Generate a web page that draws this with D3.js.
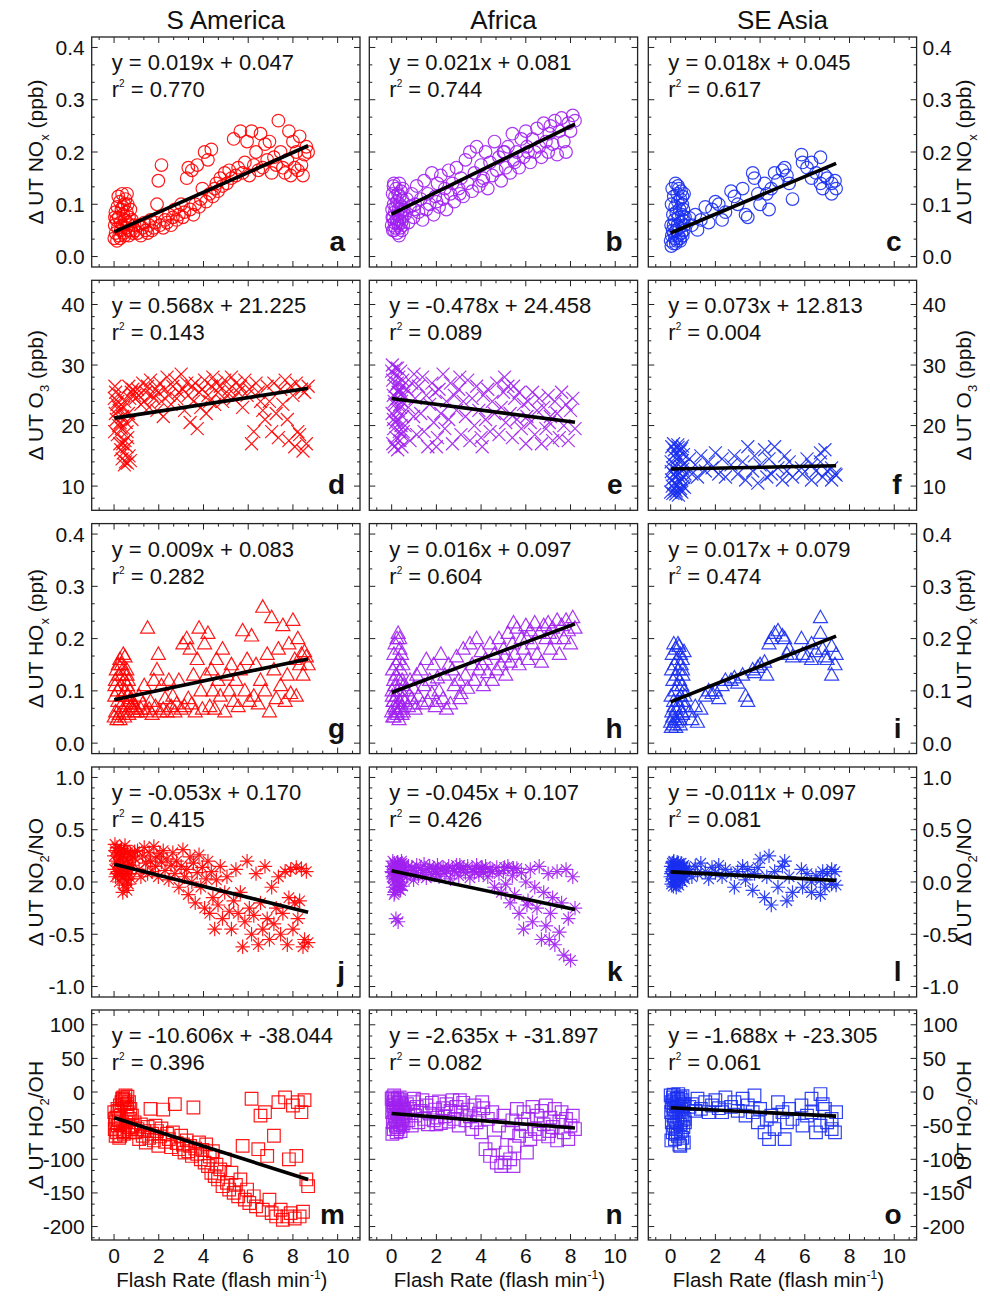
<!DOCTYPE html>
<html><head><meta charset="utf-8">
<script src="https://cdn.jsdelivr.net/npm/d3@7"></script>
<style>
body{margin:0;background:#fff}
svg{display:block}
text{font-family:"Liberation Sans",Arial,Helvetica,sans-serif;fill:#111}
</style>
</head><body>
<svg id="chart" width="990" height="1300"></svg>
<script>
// ---------------- DATA ----------------
const regions = ["S America", "Africa", "SE Asia"];
const panelLetters = ["a","b","c","d","e","f","g","h","i","j","k","l","m","n","o"];

// Flash rate (x) per region
const saFlash = [0.01,0.03,0.06,0.07,0.10,0.13,0.15,0.17,0.21,0.23,0.26,0.29,0.30,0.33,0.36,0.38,0.41,0.44,0.46,0.49,0.51,0.54,0.57,0.60,0.61,0.64,0.67,0.70,0.73,0.77,0.80,0.84,0.04,0.19,0.27,0.39,0.47,0.58,0.66,0.92,
 0.95,1.05,1.12,1.2,1.28,1.35,1.42,1.5,1.57,1.63, 1.7,1.78,1.85,1.92,1.98,2.05,2.12,2.2,2.28,2.37, 2.45,2.55,2.63,2.72,2.8,2.9,3.0,3.08,3.15,3.25,
 3.32,3.4,3.48,3.55,3.63,3.72,3.8,3.88,3.95,4.05, 4.12,4.2,4.28,4.35,4.42,4.5,4.58,4.65,4.75,4.85, 4.95,5.05,5.15,5.25,5.35,5.45,5.55,5.65,5.75,5.85,
 5.95,6.05,6.15,6.25,6.35,6.45,6.55,6.65,6.75,6.85, 6.95,7.05,7.15,7.25,7.35,7.45,7.55,7.65,7.75,7.82, 7.9,8.0,8.08,8.15,8.22,8.3,8.38,8.45,8.52,8.6,8.68];
const afFlash = [0.0,0.02,0.04,0.05,0.07,0.09,0.1,0.12,0.14,0.15, 0.17,0.19,0.2,0.22,0.24,0.25,0.27,0.29,0.3,0.32, 0.34,0.35,0.37,0.39,0.4,0.42,0.44,0.45,0.47,0.49, 0.5,0.52,0.54,0.03,0.11,0.26,0.36,0.46,0.08,0.33,
 0.6,0.68,0.75,0.82,0.9,0.98,1.05,1.12,1.2,1.3, 1.38,1.45,1.55,1.62,1.7,1.8,1.88,1.95,2.05,2.12, 2.2,2.3,2.38,2.45,2.55,2.63,2.72,2.8,2.9,3.0,
 3.1,3.2,3.3,3.4,3.5,3.6,3.7,3.8,3.9,4.0, 4.1,4.2,4.3,4.4,4.5,4.6,4.7,4.8,4.9,5.0, 5.1,5.2,5.3,5.4,5.5,5.6,5.7,5.8,5.9,6.0,
 6.1,6.2,6.3,6.4,6.5,6.6,6.7,6.8,6.9,7.0, 7.1,7.2,7.3,7.4,7.5,7.6,7.7,7.8,7.9,8.0, 8.1,8.2,1.0,2.0,3.05,4.05,5.05,6.05,7.05,5.45];
const seFlash = [0.0,0.02,0.04,0.05,0.07,0.09,0.1,0.12,0.14,0.15, 0.17,0.19,0.2,0.22,0.24,0.25,0.27,0.29,0.3,0.32, 0.34,0.35,0.37,0.39,0.4,0.42,0.44,0.45,0.47,0.49, 0.5,0.52,0.54,0.55,0.57,0.59,0.6,0.62,0.03,0.13, 0.23,0.33,0.43,0.53,0.64,
 0.84,0.95,1.1,1.2,1.35,1.55,1.7,1.85,2.0,2.15, 2.3,2.45,2.7,2.85,3.0,3.22,3.35,3.45,3.67,3.75, 3.9,4.0,4.2,4.3,4.4,4.5,4.65,4.8,5.0,5.1, 5.2,5.3,5.45,5.85,5.9,6.1,6.3,6.3,6.5,6.7, 6.7,6.8,6.9,7.0,7.2,7.2,7.35,7.4];

// Delta UT NOx (ppb)
const saNOx = [.035,.06,.085,.045,.07,.03,.095,.055,.075,.04,.105,.065,.05,.09,.12,.06,.08,.045,.1,.07,.11,.055,.085,.065,.1,.05,.075,.06,.09,.05,.07,.045,.075,.115,.035,.095,.04,.12,.04,.06,
 .05,.045,.06,.04,.055,.065,.05,.045,.06,.07, .05,.055,.065,.1,.145,.06,.175,.055,.07,.065, .08,.06,.075,.09,.07,.08,.1,.075,.085,.15,
 .17,.09,.165,.08,.1,.175,.095,.11,.13,.2, .105,.185,.12,.205,.115,.13,.14,.125,.15,.135, .16,.14,.165,.15,.225,.155,.17,.24,.16,.18,
 .22,.155,.24,.175,.2,.165,.235,.17,.215,.185, .22,.16,.19,.175,.26,.2,.17,.16,.185,.24, .155,.22,.17,.2,.165,.23,.175,.155,.195,.21,.2];
const afNOx = [.06,.09,.12,.05,.075,.1,.14,.065,.085,.115, .055,.095,.13,.07,.105,.045,.08,.12,.06,.09, .14,.07,.1,.055,.085,.125,.065,.095,.11,.075, .13,.06,.09,.075,.05,.065,.115,.05,.135,.04,
 .08,.11,.065,.095,.12,.075,.1,.135,.085,.11, .07,.145,.09,.12,.1,.16,.08,.115,.14,.095, .155,.11,.13,.09,.165,.12,.14,.105,.17,.13,
 .15,.115,.185,.14,.2,.125,.16,.21,.135,.175, .15,.2,.13,.18,.155,.22,.165,.19,.145,.2, .17,.21,.16,.235,.18,.2,.17,.225,.19,.24,
 .2,.18,.225,.2,.245,.21,.19,.255,.22,.2, .25,.215,.26,.195,.24,.265,.22,.2,.255,.24, .27,.26,.09,.105,.12,.145,.2,.21,.235,.185];
const seNOx = [.03,.06,.1,.04,.13,.05,.08,.025,.115,.045, .07,.035,.095,.14,.05,.085,.03,.12,.06,.105, .04,.075,.13,.055,.09,.035,.11,.065,.125,.045, .08,.1,.04,.07,.09,.05,.12,.06,.02,.06, .025,.135,.03,.115,.075,
 .074,.06,.08,.051,.07,.095,.065,.09,.105,.1, .07,.085,.125,.115,.1,.13,.08,.075,.16,.15, .12,.1,.14,.12,.09,.13,.16,.145,.165,.17, .155,.14,.11,.195,.18,.17,.18,.15,.16,.19, .14,.13,.155,.15,.14,.12,.145,.13];

// Delta UT O3 (ppb)
const saO3 = [24.5,19.0,22.0,25.5,21.0,23.5,18.5,24.0,20.0,22.5,17.0,25.0,16.0,19.5,14.5,21.5,15.5,23.0,13.5,17.5,14.0,20.5,16.5,13.8,18.0,22.0,15.0,24.5,14.2,25.5,21.0,26.0,26.5,23.0,20.5,17.0,24.0,19.0,26.5,25.0,
 24.5,26.0,25.0,23.5,27.0,24.0,25.5,26.5,23.0,27.5, 25.0,24.5,26.0,22.5,25.5,27.0,24.0,21.5,26.0,28.0, 25.0,23.5,26.5,27.5,24.5,25.5,28.5,26.0,22.5,27.0,
 25.0,20.5,26.5,24.0,27.0,19.5,25.5,23.0,26.0,27.5, 22.0,25.0,24.0,26.5,28.0,23.5,27.0,25.5,26.5,24.0, 27.5,25.0,26.0,28.0,24.5,27.0,25.5,26.5,23.0,27.5,
 25.0,26.0,17.0,19.0,27.0,25.5,24.0,22.5,21.0,26.5, 24.0,19.0,27.0,22.0,18.0,26.0,23.5,27.5,21.0,17.5, 26.5,25.0,16.5,27.0,19.0,18.5,26.0,15.8,25.5,17.0,26.5];
const afO3 = [29.0,22.0,27.5,17.0,25.0,19.5,28.5,16.5,23.5,26.5, 20.5,29.5,18.0,24.5,21.0,27.0,16.0,25.5,22.5,28.0, 19.0,26.0,17.5,23.0,29.0,20.0,24.0,18.5,26.5,21.5, 27.5,19.0,25.0,30.0,24.0,29.5,23.5,16.5,21.0,25.5,
 20.0,26.0,23.0,17.5,27.0,21.5,24.5,18.5,26.5,22.0, 28.0,19.0,25.0,16.5,23.5,27.0,20.5,25.5,18.0,26.0, 22.0,28.5,19.5,24.0,21.0,27.0,17.0,25.0,22.5,26.0,
 18.5,24.0,21.5,27.5,17.5,24.5,20.0,26.5,22.5,18.0, 25.0,21.0,26.0,19.0,24.0,22.0,27.0,18.5,23.0,25.5, 20.5,26.5,22.0,18.0,24.5,21.0,25.5,19.5,23.5,17.0,
 24.0,20.5,25.5,18.5,22.5,24.5,17.0,23.0,19.5,25.0, 21.5,17.5,24.0,22.0,18.0,25.5,20.0,23.5,17.5,22.5, 24.5,19.5,28.5,16.5,28.0,16.5,28.0,21.5,20.5,26.5];
const seO3 = [9.0,14.0,11.0,16.5,10.0,13.0,8.8,15.0,12.0,10.5, 16.0,9.5,13.5,11.5,15.5,9.2,14.5,12.5,10.2,16.8, 11.8,8.5,14.8,12.2,10.8,15.8,9.6,13.2,11.2,16.2, 9.0,14.2,12.8,10.0,15.2,11.4,13.6,9.8,12.4,17.0, 8.7,16.4,9.3,16.6,12.0,
 14.5,12.0,13.5,11.5,15.0,12.5,14.0,13.0,15.5,12.0, 14.5,11.5,13.5,15.0,12.0,14.0,11.0,16.5,12.5,15.0, 10.5,13.5,16.0,11.5,14.5,12.0,16.5,13.0,11.0,15.0, 12.5,14.0,11.5,13.0,12.0,14.5,13.5,11.0,12.5,15.5, 14.0,11.5,16.0,12.5,11.0,13.0,12.0,11.8];

// Delta UT HOx (ppt)
const saHOx = [.05,.09,.12,.06,.14,.045,.10,.08,.13,.055,.16,.07,.11,.15,.13,.09,.17,.06,.12,.165,.10,.075,.14,.11,.09,.12,.08,.10,.07,.085,.065,.075,.11,.15,.045,.14,.05,.13,.055,.06,
 .07,.06,.09,.065,.075,.11,.06,.22,.065,.08, .055,.12,.07,.14,.17,.06,.11,.065,.085,.06, .12,.07,.09,.06,.075,.12,.065,.19,.07,.2,
 .085,.18,.075,.13,.06,.16,.22,.1,.065,.19, .13,.21,.07,.14,.1,.065,.16,.12,.09,.18, .06,.13,.1,.15,.08,.12,.07,.14,.215,.1,
 .16,.08,.205,.09,.15,.075,.12,.26,.1,.17, .06,.24,.14,.085,.18,.11,.225,.08,.13,.19, .095,.235,.16,.09,.2,.15,.17,.13,.175,.165,.15];
const afHOx = [.06,.1,.14,.05,.08,.12,.17,.07,.11,.19, .065,.13,.15,.09,.2,.055,.1,.21,.075,.16, .12,.08,.18,.065,.14,.1,.17,.07,.12,.085, .15,.06,.11,.09,.05,.06,.2,.055,.08,.045,
 .08,.1,.07,.12,.085,.105,.065,.13,.09,.14, .075,.11,.16,.08,.12,.095,.15,.07,.125,.1, .17,.085,.13,.065,.15,.075,.14,.11,.165,.12,
 .095,.18,.13,.105,.19,.15,.12,.2,.14,.175, .11,.16,.135,.19,.12,.17,.14,.2,.15,.18, .13,.21,.155,.19,.17,.22,.15,.2,.18,.225,
 .16,.215,.19,.23,.17,.21,.155,.225,.2,.23, .18,.22,.2,.235,.17,.225,.2,.235,.215,.19, .24,.22,.075,.08,.085,.15,.165,.2,.21,.23];
const seHOx = [.04,.09,.14,.06,.17,.05,.12,.035,.19,.07, .15,.045,.1,.18,.065,.13,.04,.16,.08,.11, .05,.14,.185,.07,.12,.045,.17,.09,.15,.06, .11,.16,.055,.13,.08,.1,.175,.07,.03,.08, .03,.19,.035,.14,.09,
 .06,.045,.07,.04,.065,.09,.1,.095,.1,.085, .11,.12,.12,.125,.115,.13,.09,.08,.14,.135, .145,.15,.155,.13,.19,.2,.21,.215,.205,.2, .17,.18,.165,.2,.17,.165,.19,.16,.175,.24, .21,.18,.165,.16,.13,.185,.15,.17];

// Delta UT NO2/NO
const saNO2NO = [.25,.12,.30,.05,.20,.33,.08,.18,.28,.0,.15,.22,.10,.32,.05,.26,.17,-.03,.12,.35,.07,.21,.02,.28,.14,-.02,.19,.08,.27,.03,.16,.24,.36,.10,.24,-.1,.3,-.08,.12,.29,
 .22,.30,.12,.05,.25,.33,.18,.08,.28,.20, .10,.34,.15,.24,.05,.27,.19,.30,.11,.22, .02,.16,.28,.08,.20,-.05,.15,.31,.05,.12,
 -.12,.24,.0,.18,-.2,.09,.26,-.05,.14,-.25, .03,.2,-.3,.1,-.15,-.45,.02,-.22,.15,-.35, -.1,.05,-.28,-.45,-.18,.12,-.3,-.1,-.62,-.38,
 .2,-.25,-.5,-.32,.08,-.6,-.2,-.45,.15,-.35, -.55,-.05,-.4,-.25,.05,-.5,-.3,.1,-.6,-.15, .12,-.45,-.2,.14,-.35,-.18,.13,-.62,-.55,.1,-.58];
const afNO2NO = [.1,.15,.05,.2,-.05,.12,.0,.18,-.1,.08, .16,-.35,.02,.14,.1,-.06,.19,-.38,.06,.15, -.02,.12,.04,.17,-.08,.1,.2,.0,.14,.07, -.04,.16,.11,.09,-.12,.13,.05,.18,.03,-.07,
 .12,.05,.15,.08,.14,.02,.11,.16,.06,.13, .09,.17,.04,.12,.15,.07,.13,.1,.16,.05, .12,.14,.08,.11,.15,.03,.13,.1,.16,.06,
 .12,.14,.09,.15,.04,.12,.1,.16,.07,.13, .09,.15,.05,.12,.1,-.05,.14,.08,-.1,.11, -.02,.15,-.2,.06,-.12,.13,-.3,.09,-.45,.0,
 -.18,.12,-.38,-.05,-.25,.15,-.55,-.1,-.42,.08, -.3,-.15,-.6,.1,-.48,-.2,-.7,.12,-.35,-.75, .05,-.25,.07,.1,.16,.14,.14,-.22,-.55,.13];
const seNO2NO = [.05,.15,-.02,.1,.18,.03,.12,-.04,.2,.07, .14,.0,.16,.08,.11,-.05,.13,.19,.04,.1, .17,.06,-.03,.13,.09,.15,.02,.11,.18,.07, .12,.0,.14,.09,.05,.16,.1,.03,.08,.19, -.02,.13,.06,.15,.1,
 .12,.05,.15,.08,.18,.1,.03,.14,.09,.16, .05,.12,.08,-.05,.1,.15,.02,.12,-.08,.08, .14,.22,-.15,.05,.25,-.22,.1,-.05,.15,.2, -.18,.05,-.1,.12,-.05,.08,.0,-.1,.06,.02, -.12,.1,-.05,.08,-.02,.12,.1,-.03];

// Delta UT HO2/OH
const saHO2OH = [-30,-55,-45,-65,-38,-60,-25,-50,-42,-68,-20,-48,-35,-15,-10,-58,-8,-62,-18,-12,-5,-45,-22,-7,-30,-52,-15,-40,-25,-55,-35,-50,-40,-28,-65,-12,-58,-18,-60,-45,
 -60,-55,-70,-48,-65,-58,-75,-52,-68,-25, -62,-72,-50,-58,-80,-66,-54,-26,-74,-62, -70,-82,-60,-18,-76,-85,-65,-78,-90,-72,
 -88,-80,-95,-23,-84,-92,-75,-100,-86,-105, -78,-110,-96,-120,-88,-125,-108,-130,-115,-140, -100,-135,-145,-120,-150,-138,-155,-130,-80,-160,
 -145,-165,-10,-155,-170,-85,-35,-175,-30,-95, -160,-180,-65,-185,-15,-175,-190,-8,-185,-100, -180,-20,-188,-95,-15,-185,-30,-178,-12,-130,-140];
const afHO2OH = [-10,-30,-8,-45,-20,-55,-15,-35,-12,-40, -25,-50,-18,-60,-28,-42,-10,-33,-52,-22, -38,-15,-48,-26,-58,-12,-44,-30,-20,-50, -36,-24,-46,-62,-5,-55,-8,-40,-28,-16,
 -30,-18,-42,-25,-50,-15,-35,-22,-45,-28, -12,-40,-20,-48,-32,-16,-42,-26,-38,-14, -46,-24,-36,-18,-44,-28,-12,-40,-22,-50,
 -30,-16,-42,-26,-36,-55,-20,-45,-32,-60, -24,-85,-40,-95,-30,-75,-105,-50,-110,-35, -90,-60,-100,-42,-80,-25,-65,-48,-30,-58,
 -40,-70,-22,-55,-35,-62,-28,-48,-20,-66, -38,-52,-25,-72,-44,-30,-60,-40,-70,-50, -35,-55,-10,-48,-12,-15,-105,-90,-58,-110];
const seHO2OH = [-5,-30,-15,-45,-20,-60,-8,-35,-25,-50, -12,-70,-40,-18,-55,-28,-10,-45,-22,-65, -3,-38,-15,-78,-30,-48,-8,-58,-25,-42, -12,-68,-35,-20,-52,-75,-18,-40,-72,-4, -62,-10,-80,-6,-45,
 -22,-18,-28,-10,-25,-15,-30,-20,-12,-24, -30,-8,-22,-15,-28,-10,-35,-20,-30,-5, -45,-25,-60,-40,-70,-35,-55,-15,-30,-70, -45,-25,-40,-20,-50,-35,-10,-30,-60,-3, -50,-18,-25,-45,-55,-40,-60,-30];

// Regression results (panel order a..o)
const fitSlopes     = [0.019, 0.021, 0.018, 0.568, -0.478, 0.073, 0.009, 0.016, 0.017, -0.053, -0.045, -0.011, -10.606, -2.635, -1.688];
const fitIntercepts = [0.047, 0.081, 0.045, 21.225, 24.458, 12.813, 0.083, 0.097, 0.079, 0.170, 0.107, 0.097, -38.044, -31.897, -23.305];
const fitR2         = ["0.770","0.744","0.617","0.143","0.089","0.004","0.282","0.604","0.474","0.415","0.426","0.081","0.396","0.082","0.061"];

// Axis tick labels
const xTickLabels = ["0","2","4","6","8","10"];
const yTickLabels = [
  ["0.0","0.1","0.2","0.3","0.4"],
  ["10","20","30","40"],
  ["0.0","0.1","0.2","0.3","0.4"],
  ["-1.0","-0.5","0.0","0.5","1.0"],
  ["-200","-150","-100","-50","0","50","100"]
];

// ---------------- LAYOUT / STYLE ----------------
const regionColors = ["#ff0000", "#a020f0", "#1a2ff0"];
const flash = [saFlash, afFlash, seFlash];
const rowSeries = [
  [saNOx, afNOx, seNOx],
  [saO3, afO3, seO3],
  [saHOx, afHOx, seHOx],
  [saNO2NO, afNO2NO, seNO2NO],
  [saHO2OH, afHO2OH, seHO2OH]
];
const rowDomains = [[-0.02,0.42],[6,44],[-0.02,0.42],[-1.1,1.1],[-220,122]];
const rowMinorDiv = [3,5,3,5,3];
const rowSymbols = ["circle","times","triangle","asterisk","square"];
const rowTitles = [
  [["Δ UT NO",""],["x","sub"],[" (ppb)",""]],
  [["Δ UT O",""],["3","sub"],[" (ppb)",""]],
  [["Δ UT HO",""],["x","sub"],[" (ppt)",""]],
  [["Δ UT NO",""],["2","sub"],["/NO",""]],
  [["Δ UT HO",""],["2","sub"],["/OH",""]]
];
const symbolPaths = {
  circle: "M6.3,0A6.3,6.3 0 1,1 -6.3,0A6.3,6.3 0 1,1 6.3,0Z",
  times: "M-6.5,-6.5L6.5,6.5M-6.5,6.5L6.5,-6.5",
  triangle: "M0,-7.4L7,5L-7,5Z",
  asterisk: "M0,-7.2L0,7.2M-7.2,0L7.2,0M-5.2,-5.2L5.2,5.2M-5.2,5.2L5.2,-5.2",
  square: "M-6.3,-6.3H6.3V6.3H-6.3Z"
};

const colLeft = [91.7, 369.3, 648.3];
const panelW = 268.3;
const rowTop = [37, 280.3, 523.6, 767, 1010];
const panelH = 230;

const svg = d3.select("#chart");

function addSegments(textSel, segs, baseSize) {
  let shift = 0;
  segs.forEach(([t, kind]) => {
    if (kind === "sub") {
      const d = baseSize*0.28;
      textSel.append("tspan").attr("font-size", baseSize*0.62).attr("dy", d - shift).text(t);
      shift = d;
    } else {
      textSel.append("tspan").attr("dy", -shift).text(t);
      shift = 0;
    }
  });
}

function minorValues(domain, majors, div) {
  const step = majors[1] - majors[0];
  const out = [];
  for (let m = majors[0] - step; m <= majors[majors.length-1] + step + 1e-9; m += step) {
    for (let k = 1; k < div; k++) {
      const v = m + k*step/div;
      if (v > domain[0] + 1e-9 && v < domain[1] - 1e-9) out.push(v);
    }
  }
  return out;
}

const xMajors = xTickLabels.map(Number);

for (let r = 0; r < 5; r++) {
  for (let c = 0; c < 3; c++) {
    const idx = r*3 + c;
    const x0 = colLeft[c], y0 = rowTop[r];
    const x = d3.scaleLinear().domain([-1, 11]).range([x0, x0 + panelW]);
    const y = d3.scaleLinear().domain(rowDomains[r]).range([y0 + panelH, y0]);
    const g = svg.append("g");
    const yMajors = yTickLabels[r].map(Number);

    // Data points
    const xs = flash[c], ys = rowSeries[r][c];
    const pts = d3.zip(xs, ys).filter(d => d[0] != null && d[1] != null);
    g.append("g").selectAll("path").data(pts).join("path")
      .attr("d", symbolPaths[rowSymbols[r]])
      .attr("transform", d => `translate(${x(d[0]).toFixed(2)},${y(d[1]).toFixed(2)})`)
      .attr("fill", "none")
      .attr("stroke", regionColors[c])
      .attr("stroke-width", 1.2)
      .attr("stroke-opacity", 0.9);

    // Regression line
    const xr = d3.extent(xs);
    const line = d3.line().x(d => x(d)).y(d => y(fitSlopes[idx]*d + fitIntercepts[idx]));
    g.append("path").attr("d", line([Math.max(0, xr[0]), xr[1]]))
      .attr("stroke", "#000").attr("stroke-width", 3.6).attr("fill", "none");

    // Ticks (inward, all four sides)
    const tk = g.append("g").attr("stroke", "#222").attr("stroke-width", 1);
    const majL = 6, minL = 3;
    xMajors.forEach(v => {
      tk.append("line").attr("x1", x(v)).attr("x2", x(v)).attr("y1", y0+panelH).attr("y2", y0+panelH-majL);
      tk.append("line").attr("x1", x(v)).attr("x2", x(v)).attr("y1", y0).attr("y2", y0+majL);
    });
    minorValues([-1,11], xMajors, 3).forEach(v => {
      tk.append("line").attr("x1", x(v)).attr("x2", x(v)).attr("y1", y0+panelH).attr("y2", y0+panelH-minL);
      tk.append("line").attr("x1", x(v)).attr("x2", x(v)).attr("y1", y0).attr("y2", y0+minL);
    });
    yMajors.forEach(v => {
      tk.append("line").attr("x1", x0).attr("x2", x0+majL).attr("y1", y(v)).attr("y2", y(v));
      tk.append("line").attr("x1", x0+panelW).attr("x2", x0+panelW-majL).attr("y1", y(v)).attr("y2", y(v));
    });
    minorValues(rowDomains[r], yMajors, rowMinorDiv[r]).forEach(v => {
      tk.append("line").attr("x1", x0).attr("x2", x0+minL).attr("y1", y(v)).attr("y2", y(v));
      tk.append("line").attr("x1", x0+panelW).attr("x2", x0+panelW-minL).attr("y1", y(v)).attr("y2", y(v));
    });

    // Frame
    g.append("rect").attr("x", x0).attr("y", y0).attr("width", panelW).attr("height", panelH)
      .attr("fill", "none").attr("stroke", "#222").attr("stroke-width", 1.3);

    // Equation text
    const eq = g.append("text").attr("x", x0 + 20).attr("y", y0 + 33).attr("font-size", 22);
    eq.text(`y = ${fitSlopes[idx].toFixed(3)}x + ${fitIntercepts[idx].toFixed(3)}`);
    const r2 = g.append("text").attr("x", x0 + 20).attr("y", y0 + 60).attr("font-size", 22);
    r2.append("tspan").text("r");
    r2.append("tspan").attr("font-size", 10).attr("dy", -10).text("2");
    r2.append("tspan").attr("dy", 10).text(` = ${fitR2[idx]}`);

    // Panel letter
    g.append("text").attr("x", x0 + panelW - 15).attr("y", y0 + panelH - 16)
      .attr("text-anchor", "end").attr("font-size", 28).attr("font-weight", "bold")
      .text(panelLetters[idx]);

    // Y tick labels and titles
    if (c === 0) {
      yTickLabels[r].forEach((lab, i) => {
        g.append("text").attr("x", x0 - 7).attr("y", y(yMajors[i])).attr("dy", "0.36em")
          .attr("text-anchor", "end").attr("font-size", 21).text(lab);
      });
      const t = g.append("text").attr("transform", `translate(43,${y0 + panelH/2}) rotate(-90)`)
        .attr("text-anchor", "middle").attr("font-size", 21);
      addSegments(t, rowTitles[r], 21);
    }
    if (c === 2) {
      yTickLabels[r].forEach((lab, i) => {
        g.append("text").attr("x", x0 + panelW + 6).attr("y", y(yMajors[i])).attr("dy", "0.36em")
          .attr("text-anchor", "start").attr("font-size", 21).text(lab);
      });
      const t = g.append("text").attr("transform", `translate(971,${y0 + panelH/2}) rotate(-90)`)
        .attr("text-anchor", "middle").attr("font-size", 21);
      addSegments(t, rowTitles[r], 21);
    }

    // Column titles
    if (r === 0) {
      svg.append("text").attr("x", x0 + panelW/2).attr("y", 29).attr("text-anchor", "middle")
        .attr("font-size", 26).text(regions[c]);
    }
    // X tick labels and axis title
    if (r === 4) {
      xTickLabels.forEach((lab, i) => {
        g.append("text").attr("x", x(xMajors[i])).attr("y", y0 + panelH + 23)
          .attr("text-anchor", "middle").attr("font-size", 21).text(lab);
      });
      const xt = g.append("text").attr("x", x0 + panelW/2 - 4).attr("y", y0 + panelH + 47)
        .attr("text-anchor", "middle").attr("font-size", 20.5);
      xt.append("tspan").text("Flash Rate (flash min");
      xt.append("tspan").attr("font-size", 12).attr("dy", -8).text("-1");
      xt.append("tspan").attr("dy", 8).text(")");
    }
  }
}
</script>
</body></html>
